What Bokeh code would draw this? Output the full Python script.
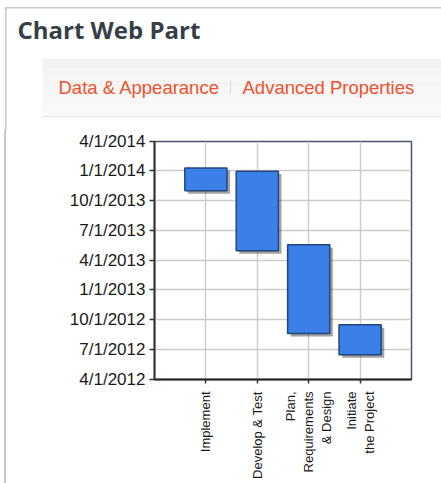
import math
from datetime import datetime, timedelta

import pandas as pd
from bokeh.plotting import figure
from bokeh.layouts import column, row
from bokeh.models import FactorRange, Range1d, FixedTicker, ColumnDataSource, Div
from bokeh.core.properties import value
from bokeh.transform import dodge
from bokeh.embed import file_html
from bokeh.resources import INLINE

# ---------------- data ----------------
tasks = ["Implement", "Develop & Test", "Plan,\nRequirements\n& Design", "Initiate\nthe Project"]
start_dates = ["2013-11-01", "2013-05-01", "2012-08-20", "2012-06-16"]
end_dates = ["2014-01-10", "2013-12-31", "2013-05-19", "2012-09-16"]
y_tick_labels = ["4/1/2012", "7/1/2012", "10/1/2012", "1/1/2013", "4/1/2013",
                 "7/1/2013", "10/1/2013", "1/1/2014", "4/1/2014"]
header_title = "Chart Web Part"
header_links = ["Data & Appearance", "Advanced Properties"]

# ---------------- derived ----------------
epoch = datetime(1970, 1, 1)
tick_dates = [datetime.strptime(s, "%m/%d/%Y") for s in y_tick_labels]
tick_ms = [(d - epoch).total_seconds() * 1000.0 for d in tick_dates]

starts = pd.to_datetime(start_dates)
ends = pd.to_datetime(end_dates)
src = ColumnDataSource(dict(task=tasks, start=starts, end=ends))
shadow_shift = timedelta(days=9)
shadow_src = ColumnDataSource(dict(task=tasks, start=starts - shadow_shift, end=ends - shadow_shift))

W, H = 441, 483
HEADER_H = 130
STRIP_W = 6
BORDER = "#c8c8c8"

# ---------------- header ----------------
hdr = figure(width=W, height=HEADER_H, x_range=Range1d(0, W), y_range=Range1d(HEADER_H, 0),
             output_backend="svg", toolbar_location=None,
             x_axis_location=None, y_axis_location=None,
             min_border=0, min_border_left=0, min_border_right=0,
             min_border_top=0, min_border_bottom=0,
             background_fill_color="white", border_fill_color="white")
hdr.outline_line_color = None
hdr.xgrid.visible = False
hdr.ygrid.visible = False
hdr.xgrid.grid_line_color = None
hdr.ygrid.grid_line_color = None
# white base over the whole header (covers any edge artefact)
hdr.quad(left=[0], right=[W + 5], top=[-5], bottom=[HEADER_H + 5], fill_color="white", line_color=None)
# card border (top + left)
hdr.quad(left=[4.5], right=[W + 5], top=[6.5], bottom=[8], fill_color=BORDER, line_color=None)
hdr.quad(left=[4.5], right=[6], top=[6.5], bottom=[HEADER_H + 5], fill_color=BORDER, line_color=None)
# toolbar band with a soft vertical gradient
band_top, band_bottom = 58, 116
band_shades = ["#f2f2f2", "#f4f4f4", "#f5f5f5", "#f7f7f7", "#f8f8f8", "#fafafa"]
step = (band_bottom - band_top) / len(band_shades)
hdr.quad(left=[42] * len(band_shades), right=[W + 5] * len(band_shades),
         top=[band_top + i * step for i in range(len(band_shades))],
         bottom=[band_top + (i + 1) * step for i in range(len(band_shades))],
         fill_color=band_shades, line_color=None)
hdr.quad(left=[42], right=[W + 5], top=[115.5], bottom=[116.5], fill_color="#e6e6e6", line_color=None)
hdr.quad(left=[229.5], right=[230.5], top=[80], bottom=[94], fill_color="#dddddd", line_color=None)
hdr.text(x=[17], y=[29], text=[header_title], text_font=value("Open Sans"),
         text_font_style="bold", text_font_size="24px", text_color="#363f47",
         text_baseline="alphabetic")
hdr.text(x=[58, 242], y=[87, 87], text=header_links, text_font=value("Liberation Sans"),
         text_font_size="18.5px", text_color="#f0502c", text_baseline="alphabetic")

# ---------------- left border strip ----------------
strip = Div(text="", width=STRIP_W, height=H - HEADER_H, margin=0,
            styles={"background": "linear-gradient(90deg, #ffffff 0px, #ffffff 4.5px, "
                                  "#c8c8c8 4.5px, #c8c8c8 6px)",
                    "padding": "0", "margin": "0"})

# ---------------- chart ----------------
CW = W - STRIP_W
CH = H - HEADER_H
FL, FR, FT, FB = 154, 411, 141, 379  # frame edges on the page
p = figure(width=CW, height=CH,
           x_range=FactorRange(factors=tasks, range_padding=0.5, range_padding_units="absolute"),
           y_range=Range1d(start=tick_dates[0], end=tick_dates[-1]),
           y_axis_type="datetime",
           output_backend="svg", toolbar_location=None,
           min_border_left=FL - STRIP_W, min_border_right=W - FR,
           min_border_top=FT - HEADER_H, min_border_bottom=H - FB,
           background_fill_color="white", border_fill_color="white")

p.outline_line_color = "#46566f"
p.outline_line_width = 1.5

ticker = FixedTicker(ticks=tick_ms)
p.yaxis.ticker = ticker
p.ygrid.ticker = ticker
for g in (p.xgrid, p.ygrid):
    g.grid_line_color = "#cccccc"
    g.grid_line_width = 1.5

ya = p.yaxis[0]
ya.major_label_overrides = {ms: lbl for ms, lbl in zip(tick_ms, y_tick_labels)}
ya.major_label_text_font = "Liberation Sans"
ya.major_label_text_font_size = "17px"
ya.major_label_text_color = "#1a1a1a"
ya.axis_line_color = "#333333"
ya.axis_line_width = 2
ya.major_tick_line_color = "#333333"
ya.major_tick_line_width = 1.5
ya.major_tick_out = 5
ya.major_tick_in = 0
ya.minor_tick_line_color = None
ya.major_label_standoff = 4

xa = p.xaxis[0]
xa.major_label_orientation = math.pi / 2
xa.major_label_text_font = "Liberation Sans"
xa.major_label_text_font_size = "13px"
xa.major_label_text_color = "#1a1a1a"
xa.axis_line_color = "#222222"
xa.axis_line_width = 2
xa.major_tick_line_color = "#333333"
xa.major_tick_line_width = 1.5
xa.major_tick_out = 4
xa.major_tick_in = 0
xa.major_label_standoff = 8

p.vbar(x=dodge("task", 0.06, range=p.x_range), top="end", bottom="start", width=0.82,
       source=shadow_src, fill_color="#333333", fill_alpha=0.45, line_color=None)
p.vbar(x="task", top="end", bottom="start", width=0.82, source=src,
       fill_color="#3a80e8", line_color="#22457c", line_width=1.5)

layout = column(hdr, row(strip, p, spacing=0), spacing=0)

open("out.html", "w").write(file_html(layout, INLINE))
